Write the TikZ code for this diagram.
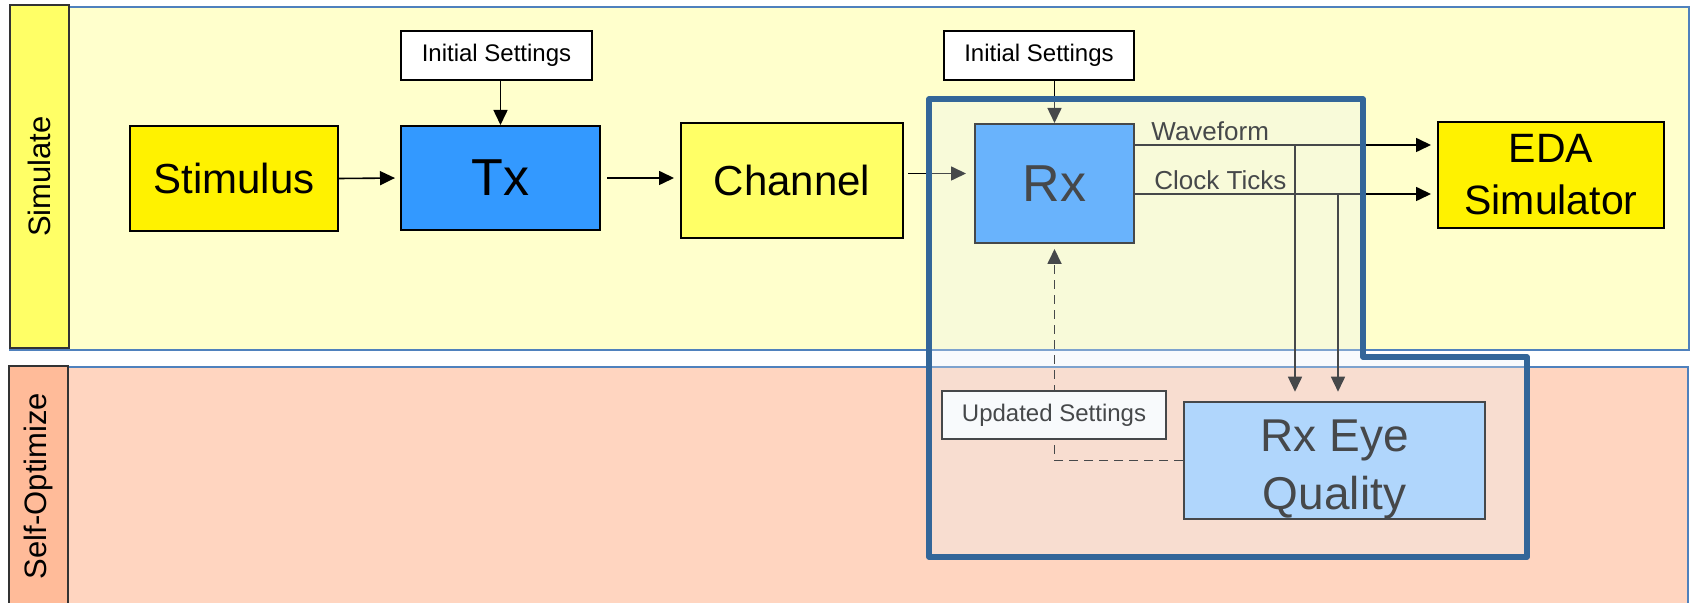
\documentclass[tikz,border=0pt]{standalone}
\usepackage{fontspec}
\setmainfont{Liberation Sans}
\usepackage{tikz}
\usetikzlibrary{arrows.meta,calc}
\definecolor{simlane}{HTML}{FFFFCC}
\definecolor{simbar}{HTML}{FFFF66}
\definecolor{optlane}{HTML}{FFD5C0}
\definecolor{optbar}{HTML}{FFBB99}
\definecolor{laneline}{HTML}{4F81BD}
\definecolor{txblue}{HTML}{3399FF}
\definecolor{eyeblue}{HTML}{99CCFF}
\definecolor{chanyellow}{HTML}{FFFF66}
\definecolor{framblue}{HTML}{336699}
\definecolor{veil}{HTML}{E8F0F8}

\begin{document}
\begin{tikzpicture}[x=0.5pt,y=-0.5pt,
  box/.style={draw=black,line width=1pt,inner sep=0pt,align=center},
  setbox/.style={box,fill=white,font={\fontsize{12}{14}\selectfont}},
  arr/.style={-{Triangle[length=7.5pt,width=7pt]},line width=0.8pt},
  lanelbl/.style={rotate=90,font={\fontsize{15.5}{18}\selectfont}}]
\useasboundingbox (0,0) rectangle (1696,603);

% Lanes
\draw[fill=simlane,draw=laneline,line width=0.75pt] (10,7) rectangle (1689,350);
\draw[fill=simbar,draw=black!80,line width=1pt] (10,5) rectangle (69,348);
\node[lanelbl] (simlbl) at (39.5,176.5) {Simulate};
\draw[fill=optlane,draw=laneline,line width=0.75pt] (9,367) rectangle (1688,640);
\draw[fill=optbar,draw=black!80,line width=1pt] (9,366) rectangle (68,640);
\node[lanelbl] (optlbl) at (38.5,486) {Self-Optimize};

% Blocks
\node[box,fill=yellow,minimum width=104pt,minimum height=52.5pt,font={\fontsize{21}{25}\selectfont}] (stim) at (234,178.5) {Stimulus};
\node[box,fill=txblue,minimum width=99.5pt,minimum height=52pt,font={\fontsize{26}{30}\selectfont}] (tx) at (500.5,178) {Tx};
\node[box,fill=chanyellow,minimum width=111pt,minimum height=57.5pt,font={\fontsize{21}{25}\selectfont}] (chan) at (792,180.5) {Channel};
\node[box,fill=txblue,minimum width=79.5pt,minimum height=59.5pt,font={\fontsize{26}{30}\selectfont}] (rx) at (1054.5,183.5) {Rx};
\node[box,fill=yellow,minimum width=113pt,minimum height=53pt,font={\fontsize{20.5}{26}\selectfont}] (eda) at (1551,175) {EDA\\Simulator};
\node[setbox,minimum width=95.5pt,minimum height=24.5pt] (txinit) at (496.5,55.5) {Initial Settings};
\node[setbox,minimum width=95pt,minimum height=24.5pt] (rxinit) at (1039,55.5) {Initial Settings};

% Main chain
\draw[arr,shorten >=2.5pt] (stim.east) -- (tx.west);
\draw[arr,shorten <=3pt,shorten >=3pt] (tx.east) -- (tx.east -| chan.west);
\draw[arr,shorten <=2pt,shorten >=4pt] ([yshift=3.5pt]chan.east) -- ([yshift=3.5pt]chan.east -| rx.west);
\draw[arr] (txinit.south -| tx.north) -- (tx.north);
\draw[arr] (rxinit.south -| rx.north) -- (rx.north);

% Rx outputs
\coordinate (wf) at (1295,145);
\coordinate (ck) at (1338,194);
\draw[arr,shorten >=3pt] (rx.east |- wf) -- (eda.west |- wf);
\draw[arr,shorten >=3pt] (rx.east |- ck) -- (eda.west |- ck);
\node[anchor=base west,inner sep=0pt,font={\fontsize{13}{15}\selectfont}] (wflbl) at (1151,141) {Waveform};
\node[anchor=base west,inner sep=0pt,font={\fontsize{13}{15}\selectfont}] (cklbl) at (1154,190) {Clock Ticks};

% Self-optimize loop
\node[box,fill=eyeblue,minimum width=150.5pt,minimum height=58.5pt,font={\fontsize{23}{29}\selectfont}] (eye) at (1334.5,460.5) {\rule{0pt}{25pt}Rx Eye\\Quality};
\draw[arr,shorten >=4.5pt] (wf) -- (wf |- eye.north);
\draw[arr,shorten >=4.5pt] (ck) -- (ck |- eye.north);
\draw[arr,line width=0.9pt,dash pattern=on 4.5pt off 3pt,shorten >=2.5pt] (eye.west) -| (rx.south);
\node[setbox,minimum width=112pt,minimum height=24pt] (upd) at (1054,415) {Updated Settings};

% Rx highlight
\draw[framblue,line width=2.6pt,line join=round,fill=veil,fill opacity=0.3]
  (929,99) -- (1363,99) -- (1363,357) -- (1527,357) -- (1527,557) -- (929,557) -- cycle;
\end{tikzpicture}
\end{document}
